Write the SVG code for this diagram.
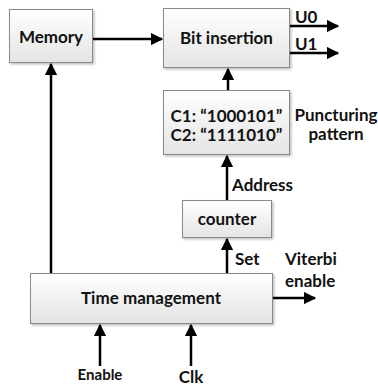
<svg xmlns="http://www.w3.org/2000/svg" width="378" height="387" viewBox="0 0 378 387">
  <defs>
    <linearGradient id="boxFill" x1="0" y1="0" x2="0" y2="1">
      <stop offset="0" stop-color="#ffffff"/>
      <stop offset="1" stop-color="#e4e4e4"/>
    </linearGradient>
    <filter id="shadow" x="-10%" y="-10%" width="130%" height="140%">
      <feDropShadow dx="1.5" dy="1.5" stdDeviation="1" flood-color="#000" flood-opacity="0.25"/>
    </filter>
    <marker id="arrow" viewBox="0 0 10 10" refX="9" refY="5" markerWidth="5" markerHeight="5" orient="auto" markerUnits="strokeWidth">
      <path d="M0,0 L10,5 L0,10 z" fill="#000"/>
    </marker>
  </defs>
  <style>
    .box { fill: url(#boxFill); stroke: #8a8a8a; stroke-width: 1; filter: url(#shadow); }
    .wire { stroke: #000; stroke-width: 2.5; fill: none; marker-end: url(#arrow); }
    text { font-family: Lato, "Liberation Sans", sans-serif; font-weight: bold; font-size: 17px; fill: #111; }
    .c { text-anchor: middle; }
  </style>

  <rect width="378" height="387" fill="#fff"/>

  <g id="memory">
    <rect class="box" x="9.5" y="9.5" width="83" height="53"/>
    <text class="c" x="51" y="43">Memory</text>
  </g>

  <g id="bit-insertion">
    <rect class="box" x="163.5" y="8.5" width="126" height="59"/>
    <text class="c" x="226.5" y="44">Bit insertion</text>
  </g>

  <g id="puncturing-pattern">
    <rect class="box" x="163.5" y="90.5" width="126" height="64"/>
    <text class="c" x="226.5" y="122">C1: “1000101”</text>
    <text class="c" x="226.5" y="141">C2: “1111010”</text>
    <text class="c" x="336" y="121">Puncturing</text>
    <text class="c" x="336" y="140">pattern</text>
  </g>

  <g id="counter">
    <rect class="box" x="182.5" y="200.5" width="89" height="37"/>
    <text class="c" x="227" y="225">counter</text>
  </g>

  <g id="time-management">
    <rect class="box" x="30.5" y="273.5" width="242" height="50"/>
    <text class="c" x="151" y="304">Time management</text>
  </g>

  <g id="connectors">
    <line class="wire" x1="93" y1="39" x2="162" y2="39"/>
    <line class="wire" x1="290" y1="26" x2="338" y2="26"/>
    <line class="wire" x1="290" y1="53" x2="338" y2="53"/>
    <line class="wire" x1="228" y1="90" x2="228" y2="69"/>
    <line class="wire" x1="227" y1="200" x2="227" y2="156"/>
    <line class="wire" x1="227" y1="273" x2="227" y2="239"/>
    <line class="wire" x1="51" y1="273" x2="51" y2="64"/>
    <line class="wire" x1="273" y1="298" x2="315" y2="298"/>
    <line class="wire" x1="100" y1="366" x2="100" y2="325"/>
    <line class="wire" x1="191" y1="366" x2="191" y2="325"/>
  </g>

  <g id="labels">
    <text x="295" y="23">U0</text>
    <text x="295" y="50">U1</text>
    <text x="232" y="191">Address</text>
    <text x="235" y="265">Set</text>
    <text x="285" y="265">Viterbi</text>
    <text x="285" y="287">enable</text>
    <text class="c" x="100" y="380" style="font-size:15px">Enable</text>
    <text class="c" x="191" y="383">Clk</text>
  </g>
</svg>
